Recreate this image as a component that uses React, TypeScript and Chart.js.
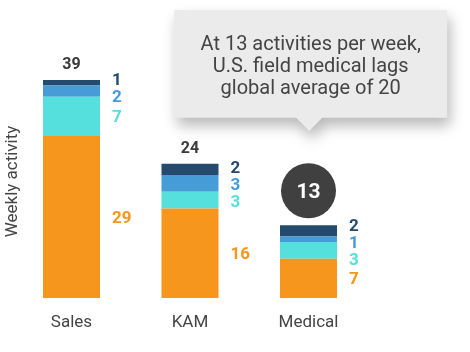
import React, { useEffect, useRef } from 'react';
import { Chart, registerables } from 'chart.js';

Chart.register(...registerables);

const categories = ['Sales', 'KAM', 'Medical'];
const orangeValues = [29, 16, 7];
const cyanValues = [7, 3, 3];
const blueValues = [2, 3, 1];
const navyValues = [1, 2, 2];
const highlightIndex = 2;
const yTitle = 'Weekly activity';
const calloutLines = ['At 13 activities per week,', 'U.S. field medical lags', 'global average of 20'];

const COLORS = {
  orange: '#F7961D',
  cyan: '#55DFDD',
  blue: '#469CD6',
  navy: '#244A6E',
  text: '#444444',
  dark: '#404040',
};

const FONT = 'Roboto, "Noto Sans", sans-serif';

function spread(centers: number[], gap: number, minTop: number): number[] {
  let groups = centers.map((c) => ({ items: [c], start: c }));
  let merged = true;
  while (merged) {
    merged = false;
    for (let k = 0; k < groups.length - 1; k++) {
      const a = groups[k];
      const b = groups[k + 1];
      const aEnd = a.start + (a.items.length - 1) * gap;
      if (b.start - aEnd < gap) {
        const items = a.items.concat(b.items);
        const mean = items.reduce((s, v) => s + v, 0) / items.length;
        const start = mean - ((items.length - 1) * gap) / 2;
        groups.splice(k, 2, { items, start });
        merged = true;
        break;
      }
    }
  }
  const out: number[] = [];
  groups.forEach((g) => g.items.forEach((_, j) => out.push(g.start + j * gap)));
  const shift = Math.max(0, minTop - out[0]);
  for (let k = 0; k < out.length; k++) {
    const prev = k > 0 ? out[k - 1] + gap : -Infinity;
    out[k] = Math.max(k === 0 ? out[k] + shift : out[k], prev);
  }
  return out;
}

const annotPlugin = {
  id: 'annot',
  afterDraw(chart: any) {
    const ctx = chart.ctx as CanvasRenderingContext2D;
    const colorOrder = [COLORS.navy, COLORS.blue, COLORS.cyan, COLORS.orange];
    const seriesTopDown = [navyValues, blueValues, cyanValues, orangeValues];
    const dsTopDown = [3, 2, 1, 0];
    ctx.save();

    categories.forEach((cat, i) => {
      const els = dsTopDown.map((d) => chart.getDatasetMeta(d).data[i]);
      const topEl = els[0];
      const cx = topEl.x;
      const right = topEl.x + topEl.width / 2;
      const top = topEl.y;
      const bottom = els[3].base;

      // segment labels
      const centers = els.map((e: any) => (e.y + e.base) / 2);
      const pos = spread(centers, 17, top - 0.5);
      ctx.font = `bold 17px ${FONT}`;
      ctx.textAlign = 'left';
      ctx.textBaseline = 'alphabetic';
      pos.forEach((p, k) => {
        ctx.fillStyle = colorOrder[k];
        ctx.fillText(String(seriesTopDown[k][i]), right + 12, p + 6);
      });

      // totals
      const total = orangeValues[i] + cyanValues[i] + blueValues[i] + navyValues[i];
      ctx.textAlign = 'center';
      if (i === highlightIndex) {
        const cy = top - 34.6;
        ctx.beginPath();
        ctx.arc(cx, cy, 27.5, 0, Math.PI * 2);
        ctx.fillStyle = COLORS.dark;
        ctx.fill();
        ctx.fillStyle = '#ffffff';
        ctx.font = `bold 21px ${FONT}`;
        ctx.fillText(String(total), cx, cy + 7.5);
      } else {
        ctx.fillStyle = '#3a3a3a';
        ctx.font = `bold 16px ${FONT}`;
        ctx.fillText(String(total), cx, top - 16.3 + 5.7);
      }

      // category labels
      ctx.fillStyle = COLORS.text;
      ctx.font = `17px ${FONT}`;
      ctx.fillText(cat, cx, bottom + 28.5);
    });

    // y title
    ctx.save();
    ctx.translate(17, 181.5);
    ctx.rotate(-Math.PI / 2);
    ctx.fillStyle = COLORS.text;
    ctx.font = `17px ${FONT}`;
    ctx.textAlign = 'center';
    ctx.fillText(yTitle, 0, 0);
    ctx.restore();

    // callout
    const hEl = chart.getDatasetMeta(3).data[highlightIndex];
    const tipX = hEl.x + 0.7;
    const tipY = 131;
    const bx0 = tipX - 135;
    const bx1 = tipX + 138;
    const by0 = 10;
    const by1 = 117.7;
    ctx.save();
    ctx.shadowColor = 'rgba(0,0,0,0.28)';
    ctx.shadowBlur = 14;
    ctx.shadowOffsetX = 3;
    ctx.shadowOffsetY = 8;
    ctx.fillStyle = '#EBEBEB';
    ctx.beginPath();
    ctx.moveTo(bx0, by0);
    ctx.lineTo(bx1, by0);
    ctx.lineTo(bx1, by1);
    ctx.lineTo(tipX + 13, by1);
    ctx.lineTo(tipX, tipY);
    ctx.lineTo(tipX - 13, by1);
    ctx.lineTo(bx0, by1);
    ctx.closePath();
    ctx.fill();
    ctx.restore();

    ctx.fillStyle = COLORS.text;
    ctx.font = `20px ${FONT}`;
    ctx.textAlign = 'center';
    const mid = (bx0 + bx1) / 2;
    calloutLines.forEach((line, k) => {
      ctx.fillText(line, mid, 43 + 7 + k * 22);
    });

    ctx.restore();
  },
};

export default function App() {
  const ref = useRef<HTMLCanvasElement>(null);
  useEffect(() => {
    if (!ref.current) return;
    const chart = new Chart(ref.current, {
      type: 'bar',
      data: {
        labels: categories,
        datasets: [
          { label: 'orange', data: orangeValues, backgroundColor: COLORS.orange },
          { label: 'cyan', data: cyanValues, backgroundColor: COLORS.cyan },
          { label: 'blue', data: blueValues, backgroundColor: COLORS.blue },
          { label: 'navy', data: navyValues, backgroundColor: COLORS.navy },
        ],
      },
      options: {
        animation: false,
        responsive: false,
        devicePixelRatio: 1,
        layout: { padding: { left: 12.25, right: 102.25, top: 18.5, bottom: 54 } },
        datasets: { bar: { categoryPercentage: 1, barPercentage: 0.481 } },
        plugins: { legend: { display: false }, tooltip: { enabled: false } },
        scales: {
          x: { display: false, stacked: true },
          y: { display: false, stacked: true, min: 0, max: 50 },
        },
      },
      plugins: [annotPlugin],
    });
    return () => chart.destroy();
  }, []);
  return (
    <div style={{ position: 'absolute', left: 0, top: 0, width: 470, height: 352, background: '#fff' }}>
      <canvas ref={ref} width={470} height={352} style={{ display: 'block' }} />
    </div>
  );
}
